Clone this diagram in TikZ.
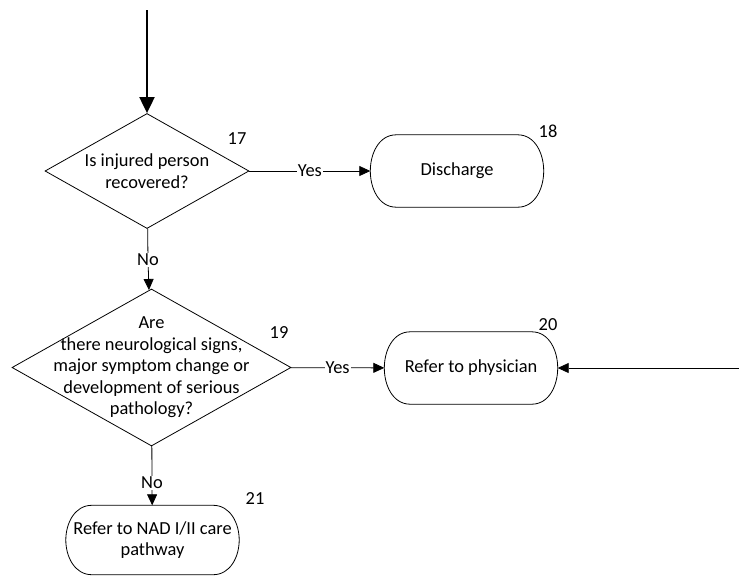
\documentclass[tikz,border=0pt]{standalone}
\usepackage{fontspec}
\setmainfont{Carlito}
\usetikzlibrary{shapes.geometric,arrows.meta}
\begin{document}
\begin{tikzpicture}[x=1pt,y=-1pt,
  every node/.style={align=center,font=\fontsize{18.4}{21.5}\selectfont},
  decision/.style={diamond,draw,line width=.8pt,inner sep=-8pt,shape aspect=1.78},
  terminal/.style={rectangle,inner sep=0pt,minimum width=173pt,minimum height=72pt},
  flow/.style={line width=.8pt,-{Triangle[length=11pt,width=10pt]}},
  answer/.style={fill=white,inner sep=1pt}]
\useasboundingbox (0,0) rectangle (739,576);

\coordinate (in17) at (147,10);
\coordinate (in20) at (739,368);

\node[decision,minimum width=204pt,minimum height=115pt] (d17) at (147,171) {Is injured person\\recovered?};
\node[terminal] (t18) at (457,171) {Discharge};
\node[answer] (no17) at (148,260) {No};
\node[decision,inner sep=-18pt,minimum width=279pt,minimum height=157pt] (d19) at (151.5,367.5)
     {Are\\there neurological signs,\\major symptom change or\\development of serious\\pathology?};
\node[terminal] (t20) at (471,368) {Refer to physician};
\node[answer] (no19) at (152,483) {No};
\node[terminal,minimum height=69pt] (t21) at (152.5,540) {Refer to NAD I/II care\\pathway};

% terminator outlines
\foreach \t in {t18,t20,t21}
  \draw[line width=.8pt] ([xshift=26pt]\t.north west) -- ([xshift=-26pt]\t.north east)
    to[out=0,in=90] (\t.east) to[out=-90,in=0] ([xshift=-26pt]\t.south east)
    -- ([xshift=26pt]\t.south west) to[out=180,in=-90] (\t.west)
    to[out=90,in=180] ([xshift=26pt]\t.north west);

% step numbers
\node (k17) at (237,139) {17};
\node (k18) at (548,131) {18};
\node (k19) at (279,333) {19};
\node (k20) at (548,325) {20};
\node (k21) at (255,499) {21};

\draw[line width=2pt,-{Triangle[length=16pt,width=15pt]}] (in17) -- (d17);
\draw[flow] (d17) -- node[answer] (y17) {Yes} (t18);
\draw[line width=.8pt] (d17) -- (no17);
\draw[flow] (no17) -- (d19);
\draw[flow] (d19) -- node[answer] (y19) {Yes} (t20);
\draw[flow] (in20) -- (t20);
\draw[line width=.8pt] (d19) -- (no19);
\draw[flow] (no19) -- (t21);
\end{tikzpicture}
\end{document}
